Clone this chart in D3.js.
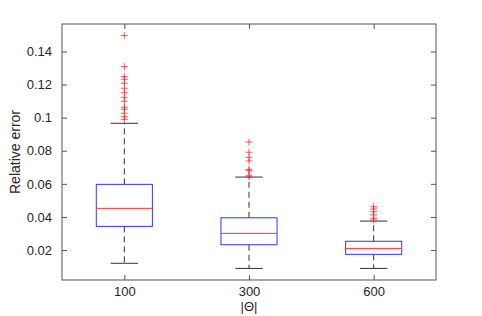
<!DOCTYPE html>
<html lang="en">
<head>
  <meta charset="UTF-8">
  <title>Relative error boxplot</title>
  <script src="https://d3js.org/d3.v7.min.js"></script>
  <style>
    body { margin: 0; background: #fff; }
    text { font-family: "Liberation Sans", Arial, sans-serif; fill: #262626; }
  </style>
</head>
<body>
<script>
  // groups on the x axis
  const groups = ["100", "300", "600"];
  // box statistics
  const lowWhisker = [0.012, 0.0089, 0.0089];
  const q1 = [0.0343, 0.0232, 0.0174];
  const median = [0.0452, 0.0301, 0.021];
  const q3 = [0.0597, 0.0395, 0.0253];
  const highWhisker = [0.0966, 0.0641, 0.0375];
  // outliers per group
  const outliers = [
    [0.1496, 0.1308, 0.1248, 0.1232, 0.1208, 0.1178, 0.1151, 0.1123, 0.1099, 0.1063, 0.1051, 0.1027, 0.1006, 0.099],
    [0.0853, 0.0791, 0.076, 0.0738, 0.0688, 0.068, 0.0652, 0.0643],
    [0.0462, 0.0448, 0.0432, 0.0412, 0.0392, 0.0381]
  ];
  const yTicks = [0.02, 0.04, 0.06, 0.08, 0.1, 0.12, 0.14];

  const width = 482, height = 316;
  const margin = { top: 24, right: 46, bottom: 36, left: 62 };
  const w = width - margin.left - margin.right;
  const h = height - margin.top - margin.bottom;

  const svg = d3.select("body").append("svg")
    .attr("width", width)
    .attr("height", height);

  const g = svg.append("g")
    .attr("transform", "translate(" + margin.left + "," + margin.top + ")");

  const x = d3.scaleLinear().domain([0.5, 3.5]).range([0, w]);
  const y = d3.scaleLinear().domain([0.0019, 0.1566]).range([h, 0]);

  const axisColor = "#555";

  // frame
  g.append("rect")
    .attr("width", w).attr("height", h)
    .attr("fill", "none").attr("stroke", axisColor).attr("stroke-width", 1);

  // y ticks left + right (inward)
  const yAxis = g.append("g").call(d3.axisLeft(y).tickValues(yTicks).tickSize(-5).tickPadding(10).tickFormat(d3.format("")));
  yAxis.select(".domain").remove();
  yAxis.selectAll("line").attr("stroke", axisColor);
  yAxis.selectAll("text").style("font-size", "13px").attr("fill", "#262626");

  const yRight = g.append("g").attr("transform", "translate(" + w + ",0)")
    .call(d3.axisRight(y).tickValues(yTicks).tickSize(-5).tickFormat(""));
  yRight.select(".domain").remove();
  yRight.selectAll("line").attr("stroke", axisColor);

  // x ticks bottom + top
  const xAxis = g.append("g").attr("transform", "translate(0," + h + ")")
    .call(d3.axisBottom(x).tickValues([1, 2, 3]).tickSize(-5).tickPadding(7).tickFormat((d, i) => groups[i]));
  xAxis.select(".domain").remove();
  xAxis.selectAll("line").attr("stroke", axisColor);
  xAxis.selectAll("text").style("font-size", "13px").attr("fill", "#262626");

  const xTop = g.append("g")
    .call(d3.axisTop(x).tickValues([1, 2, 3]).tickSize(-5).tickFormat(""));
  xTop.select(".domain").remove();
  xTop.selectAll("line").attr("stroke", axisColor);

  // boxes
  const boxW = 0.45, capW = 0.22;
  const data = groups.map((k, i) => ({
    i: i + 1, lo: lowWhisker[i], q1: q1[i], med: median[i], q3: q3[i], hi: highWhisker[i], out: outliers[i]
  }));

  const box = g.selectAll(".box").data(data).enter().append("g").attr("class", "box");

  // dashed whiskers
  box.append("line")
    .attr("x1", d => x(d.i)).attr("x2", d => x(d.i))
    .attr("y1", d => y(d.q3)).attr("y2", d => y(d.hi))
    .attr("stroke", "#333").attr("stroke-dasharray", "6,4");
  box.append("line")
    .attr("x1", d => x(d.i)).attr("x2", d => x(d.i))
    .attr("y1", d => y(d.q1)).attr("y2", d => y(d.lo))
    .attr("stroke", "#333").attr("stroke-dasharray", "6,4");

  // caps
  box.append("line")
    .attr("x1", d => x(d.i - capW / 2)).attr("x2", d => x(d.i + capW / 2))
    .attr("y1", d => y(d.hi)).attr("y2", d => y(d.hi))
    .attr("stroke", "#333");
  box.append("line")
    .attr("x1", d => x(d.i - capW / 2)).attr("x2", d => x(d.i + capW / 2))
    .attr("y1", d => y(d.lo)).attr("y2", d => y(d.lo))
    .attr("stroke", "#333");

  box.append("rect")
    .attr("x", d => x(d.i - boxW / 2))
    .attr("width", x(boxW) - x(0))
    .attr("y", d => y(d.q3))
    .attr("height", d => y(d.q1) - y(d.q3))
    .attr("fill", "none").attr("stroke", "#3333ff").attr("stroke-width", 1);

  box.append("line")
    .attr("x1", d => x(d.i - boxW / 2)).attr("x2", d => x(d.i + boxW / 2))
    .attr("y1", d => y(d.med)).attr("y2", d => y(d.med))
    .attr("stroke", "#ff3333");

  // outliers as red plus marks
  box.selectAll(".out").data(d => d.out.map(v => ({ i: d.i, v: v }))).enter()
    .append("path")
    .attr("class", "out")
    .attr("d", d => {
      const cx = x(d.i), cy = y(d.v), s = 3.5;
      return "M" + (cx - s) + "," + cy + "H" + (cx + s) + "M" + cx + "," + (cy - s) + "V" + (cy + s);
    })
    .attr("stroke", "#ff2020").attr("stroke-opacity", 0.75).attr("fill", "none");

  // axis labels
  svg.append("text")
    .attr("x", margin.left + x(2))
    .attr("y", 311)
    .attr("text-anchor", "middle")
    .style("font-size", "13px")
    .text("|Θ|");

  svg.append("text")
    .attr("transform", "translate(20," + (margin.top + h / 2) + ") rotate(-90)")
    .attr("text-anchor", "middle")
    .style("font-size", "14px")
    .text("Relative error");
</script>
</body>
</html>
